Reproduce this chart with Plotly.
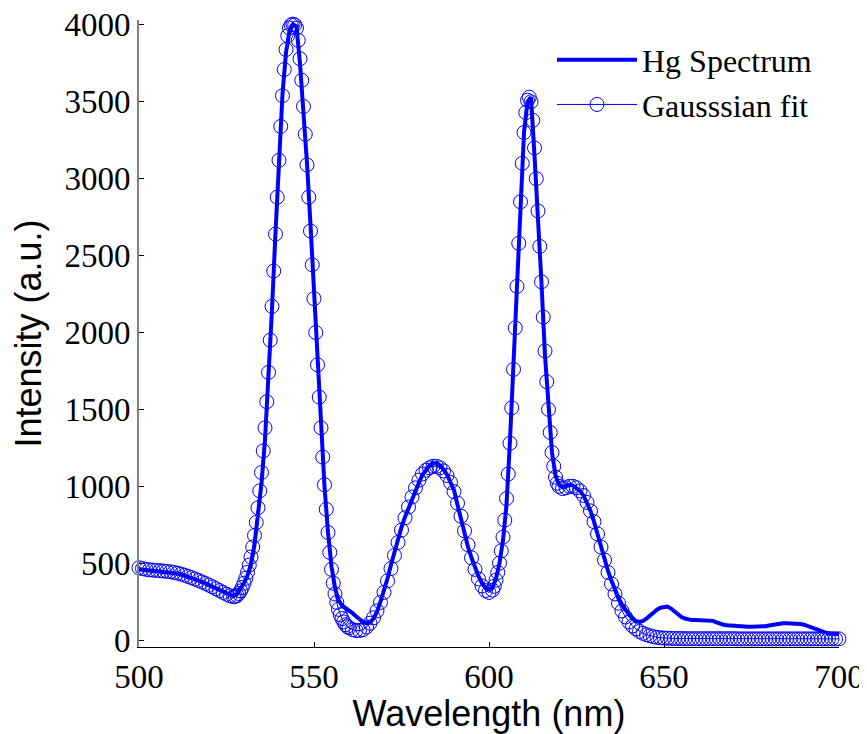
import plotly.graph_objects as go

# Hg spectrum, sampled every 1 nm from 500 to 700 nm
spec_wavelength = list(range(500, 701))
spec_intensity = [
    460, 458, 456, 454, 452, 450, 449, 447, 445, 442,
    438, 433, 427, 420, 412, 404, 396, 387, 378, 368,
    358, 348, 338, 327, 316, 305, 295, 285, 300, 330,
    370, 420, 490, 620, 800, 1020, 1300, 1700, 2150, 2650,
    3150, 3550, 3820, 3960, 4000, 3990, 3750, 3450, 3100, 2700,
    2250, 1800, 1380, 1000, 700, 480, 340, 260, 225, 210,
    195, 175, 155, 135, 118, 108, 115, 140, 185, 250,
    320, 400, 490, 580, 660, 735, 800, 860, 915, 970,
    1025, 1075, 1110, 1135, 1150, 1150, 1135, 1110, 1075, 1030,
    975, 880, 780, 690, 605, 535, 470, 415, 370, 340,
    330, 340, 400, 500, 650, 880, 1300, 1820, 2300, 2850,
    3300, 3500, 3530, 3150, 2780, 2320, 1850, 1500, 1220, 1070,
    1010, 995, 1000, 1010, 1005, 990, 970, 940, 895, 840,
    770, 690, 600, 520, 450, 385, 325, 275, 230, 195,
    165, 140, 122, 118, 125, 140, 160, 180, 198, 210,
    216, 218, 205, 185, 165, 150, 140, 132, 130, 130,
    130, 130, 130, 130, 125, 115, 105, 100, 97, 95,
    92, 88, 87, 87, 87, 87, 87, 87, 88, 90,
    95, 100, 105, 108, 110, 110, 110, 110, 108, 105,
    100, 92, 82, 72, 62, 55, 50, 45, 42, 40,
    38,
]

# Gaussian fit: wavelength grid (finer over the two sharp peaks)
fit_wavelength = (
    [float(w) for w in range(500, 528)]
    + [527.5 + 0.5 * i for i in range(66)]
    + [float(w) for w in range(561, 602)]
    + [601.5 + 0.5 * i for i in range(38)]
    + [float(w) for w in range(621, 701)]
)
fit_intensity = [
    # 500-527
    470, 465, 460, 457, 455, 453, 451, 449, 447, 444,
    440, 435, 429, 422, 414, 406, 397, 388, 378, 368,
    357, 346, 334, 322, 310, 298, 288, 282,
    # 527.5-560 (0.5 nm)
    284, 290, 303, 320, 342, 370, 402, 440, 487, 540,
    605, 680, 765, 860, 970, 1090, 1230, 1380, 1550, 1740,
    1950, 2170, 2400, 2640, 2880, 3120, 3340, 3540, 3710, 3840,
    3930, 3980, 4000, 4005, 4000, 3980, 3900, 3780, 3640, 3470,
    3290, 3090, 2880, 2660, 2440, 2220, 2000, 1790, 1580, 1380,
    1190, 1010, 850, 700, 570, 460, 370, 300, 245, 200,
    165, 140, 118, 100, 88, 80,
    # 561-601
    68, 62, 62, 68, 85, 110, 145, 190, 245, 310,
    385, 465, 550, 635, 715, 795, 865, 930, 990, 1040,
    1080, 1105, 1120, 1130, 1130, 1120, 1100, 1070, 1025, 965,
    890, 805, 710, 620, 535, 460, 398, 352, 322, 310,
    325,
    # 601.5-620 (0.5 nm)
    350, 390, 440, 500, 580, 670, 780, 920, 1080, 1280,
    1510, 1760, 2030, 2300, 2580, 2850, 3100, 3300, 3430, 3510,
    3530, 3500, 3380, 3200, 3000, 2790, 2560, 2330, 2100, 1880,
    1680, 1500, 1350, 1220, 1130, 1060, 1020, 1000,
    # 621-700
    985, 990, 1000, 1000, 990, 970, 940, 895, 840, 770,
    690, 605, 520, 440, 365, 300, 240, 190, 150, 118,
    92, 72, 56, 44, 35, 28, 22, 18, 15, 13,
    12, 11, 10, 10, 10, 9, 9, 9, 9, 9,
    9, 9, 9, 9, 9, 9, 9, 9, 9, 9,
    8, 8, 8, 8, 8, 8, 8, 8, 8, 8,
    8, 8, 8, 8, 8, 8, 8, 8, 8, 8,
    8, 8, 8, 8, 8, 8, 8, 8, 8, 8,
]
assert len(fit_wavelength) == len(fit_intensity), (len(fit_wavelength), len(fit_intensity))

x_ticks = [500, 550, 600, 650, 700]
y_ticks = [0, 500, 1000, 1500, 2000, 2500, 3000, 3500, 4000]

BLUE = "#0000FF"
SERIF = "Liberation Serif, Times New Roman, serif"
SANS = "Liberation Sans, Arial, sans-serif"

fig = go.Figure()
fig.add_trace(go.Scatter(
    x=spec_wavelength, y=spec_intensity, mode="lines", name="Hg Spectrum",
    line=dict(color=BLUE, width=4), cliponaxis=False,
))
fig.add_trace(go.Scatter(
    x=fit_wavelength, y=fit_intensity, mode="lines+markers", name="Gausssian fit",
    line=dict(color=BLUE, width=1),
    marker=dict(symbol="circle-open", size=14, color=BLUE, line=dict(color=BLUE, width=1)),
    cliponaxis=False,
))

# the page body adds an 8 px offset, so the figure is 8 px smaller than the window
fig.update_layout(
    width=859, height=726,
    margin=dict(l=131, r=28, t=12, b=87),
    paper_bgcolor="white", plot_bgcolor="white",
    showlegend=True,
    legend=dict(
        x=0.59, y=0.98, xanchor="left", yanchor="top",
        font=dict(family=SERIF, size=32, color="black"),
        bgcolor="rgba(0,0,0,0)", itemwidth=80, tracegroupgap=0,
    ),
    xaxis=dict(
        range=[500, 700], tickvals=x_ticks, ticktext=[str(v) for v in x_ticks],
        automargin=False, ticklabeloverflow="allow",
        showgrid=False, zeroline=False, showline=True, linecolor="black", linewidth=1,
        ticks="inside", ticklen=5, tickcolor="black",
        tickfont=dict(family=SERIF, size=33, color="black"),
        title=dict(text="Wavelength (nm)", font=dict(family=SANS, size=36, color="black"), standoff=2),
    ),
    yaxis=dict(
        range=[-45, 4032], tickvals=y_ticks, ticktext=[str(v) for v in y_ticks],
        automargin=False, ticklabeloverflow="allow",
        showgrid=False, zeroline=False, showline=True, linecolor="#808080", linewidth=2,
        ticks="inside", ticklen=5, tickcolor="black",
        tickfont=dict(family=SERIF, size=33, color="black"),
        title=dict(text="Intensity (a.u.)", font=dict(family=SANS, size=36, color="black"), standoff=15),
    ),
)

fig.write_html("out.html")
